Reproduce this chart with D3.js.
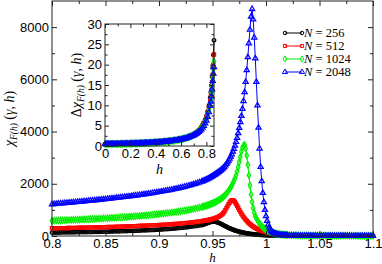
<!DOCTYPE html>
<html>
<head>
<meta charset="utf-8">
<script src="https://cdn.jsdelivr.net/npm/d3@7"></script>
<style>
body { margin: 0; background: #fff; }
svg { display: block; font-family: "Liberation Serif", "Times New Roman", serif; }
.tick text { font-size: 13px; fill: #000; }
.tick line { stroke: #222; }
</style>
</head>
<body>
<div id="chart-area"></div>
<script>
// ---- data ----
var hMain = [
  0.800,0.802,0.804,0.806,0.808,0.810,0.812,0.814,0.816,0.818,
  0.820,0.822,0.824,0.826,0.828,0.830,0.832,0.834,0.836,0.838,
  0.840,0.842,0.844,0.846,0.848,0.850,0.852,0.854,0.856,0.858,
  0.860,0.862,0.864,0.866,0.868,0.870,0.872,0.874,0.876,0.878,
  0.880,0.882,0.884,0.886,0.888,0.890,0.892,0.894,0.896,0.898,
  0.900,0.902,0.904,0.906,0.908,0.910,0.912,0.914,0.916,0.918,
  0.920,0.922,0.924,0.926,0.928,0.930,0.932,0.934,0.936,0.938,0.940,
  0.941,0.942,0.943,0.944,0.945,0.946,0.947,0.948,0.949,0.950,
  0.951,0.952,0.953,0.954,0.955,0.956,0.957,0.958,0.959,0.960,
  0.961,0.962,0.963,0.964,0.965,0.966,0.967,0.968,0.969,0.970,
  0.971,0.972,0.973,0.974,0.975,0.976,0.977,0.978,0.979,0.980,
  0.981,0.982,0.983,0.984,0.985,0.986,0.987,0.988,0.989,0.990,
  0.991,0.992,0.993,0.994,0.995,0.996,0.997,0.998,0.999,1.000,
  1.001,1.002,1.003,1.004,1.005,1.006,1.007,1.008,1.009,1.010,
  1.011,1.012,1.013,1.014,1.015,1.016,1.017,1.018,1.019,1.020,
  1.022,1.024,1.026,1.028,1.030,1.032,1.034,1.036,1.038,1.040,
  1.042,1.044,1.046,1.048,1.050,1.052,1.054,1.056,1.058,1.060,
  1.062,1.064,1.066,1.068,1.070,1.072,1.074,1.076,1.078,1.080,
  1.082,1.084,1.086,1.088,1.090,1.092,1.094,1.096,1.098,1.100
];

var chi256 = [
  130,131,133,134,135,137,138,139,140,142,
  143,145,146,148,149,151,152,154,155,157,
  159,160,162,164,166,168,170,172,174,176,
  179,181,183,186,188,191,194,197,200,203,
  206,209,213,216,220,224,228,232,237,241,
  246,251,257,262,268,274,280,287,294,301,
  309,317,326,336,346,357,368,380,392,405,418,
  430,444,460,476,492,507,521,533,542,548,
  550,548,541,530,516,500,482,462,441,420,
  398,377,356,335,315,296,278,261,245,230,
  215,202,189,177,166,155,145,136,127,119,
  111,104,97,91,85,80,75,70,66,62,
  58,54,51,48,45,42,40,37,35,33,
  31,30,28,27,25,24,23,22,21,20,
  19,18,17,17,16,15,15,14,14,13,
  13,12,12,11,11,10,10,10,9,9,
  9,8,8,8,8,7,7,7,6,6,
  6,6,6,6,5,5,5,5,5,5,
  4,4,4,4,4,4,4,4,3,3
];

var chi512 = [
  295,296,298,299,301,302,304,305,307,309,
  311,312,314,316,318,320,322,324,326,328,
  330,332,334,336,339,341,344,346,349,351,
  354,356,359,362,365,368,371,374,377,380,
  384,387,391,394,398,402,406,410,415,419,
  424,428,433,438,443,448,454,460,466,472,
  479,486,493,501,509,518,527,537,547,558,570,
  576,583,590,597,605,613,622,631,641,652,
  664,677,691,707,725,746,770,798,830,870,
  925,990,1065,1145,1220,1285,1338,1370,1372,1350,
  1300,1235,1160,1080,1000,925,855,790,730,675,
  625,578,535,495,458,424,393,364,337,312,
  289,268,248,230,213,197,183,170,157,146,
  135,125,116,108,100,93,87,81,76,71,
  66,62,58,55,52,49,46,44,42,40,
  36,33,30,28,26,24,22,21,19,18,
  17,16,15,14,14,13,12,12,11,11,
  10,10,9,9,8,8,8,8,7,7,
  7,7,6,6,6,6,5,5,5,5
];

var chi1024 = [
  586,589,592,595,598,601,604,607,611,614,
  618,621,625,628,632,636,640,644,648,652,
  656,660,665,669,674,678,683,688,693,698,
  703,708,714,719,725,731,737,743,749,755,
  762,769,776,783,791,798,806,814,822,831,
  840,849,858,868,878,888,899,910,921,933,
  945,958,971,985,1000,1016,1033,1051,1070,1090,1111,
  1122,1134,1146,1159,1172,1186,1201,1216,1232,1249,
  1267,1286,1306,1328,1351,1376,1403,1432,1464,1499,
  1537,1579,1625,1676,1732,1794,1862,1937,2020,2110,
  2210,2330,2470,2640,2830,3030,3230,3390,3460,3490,
  3350,3080,2730,2330,1940,1590,1300,1070,890,750,
  680,600,535,475,425,380,340,305,273,245,
  220,198,178,160,145,131,118,107,97,88,
  80,73,67,62,57,52,48,45,42,39,
  34,30,27,25,23,21,19,18,17,16,
  15,14,13,13,12,12,11,11,10,10,
  9,9,8,8,8,8,7,7,7,7,
  6,6,6,6,6,6,5,5,5,5
];

var chi2048 = [
  1215,1222,1230,1237,1245,1252,1260,1267,1275,1282,
  1290,1297,1305,1312,1320,1328,1336,1344,1352,1360,
  1368,1376,1385,1393,1402,1411,1420,1429,1438,1447,
  1457,1466,1476,1486,1496,1506,1517,1527,1538,1549,
  1560,1571,1583,1595,1607,1619,1632,1645,1658,1671,
  1685,1699,1714,1729,1744,1760,1776,1793,1810,1828,
  1846,1865,1885,1906,1928,1951,1975,2000,2027,2055,2085,
  2102,2119,2137,2156,2176,2197,2219,2242,2266,2291,
  2317,2344,2373,2403,2430,2460,2492,2526,2562,2600,
  2650,2700,2760,2820,2890,2960,3040,3130,3230,3340,
  3460,3600,3760,3940,4140,4360,4600,4870,5170,5510,
  5900,6350,6850,7380,7900,8400,8690,8300,7600,6800,
  5900,5000,4150,3350,2650,2100,1650,1300,1000,760,
  580,440,330,250,190,150,120,97,80,67,
  57,49,43,38,34,31,28,26,24,22,
  20,18,16,15,13,13,12,12,11,11,
  10,10,9,9,9,8,8,8,8,7,
  7,7,7,6,6,6,6,6,6,5,
  5,5,5,5,5,5,4,4,4,4
];

// inset: delta chi
var hInset = [
  0.00,0.01,0.02,0.03,0.04,0.05,0.06,0.07,0.08,0.09,
  0.10,0.11,0.12,0.13,0.14,0.15,0.16,0.17,0.18,0.19,
  0.20,0.21,0.22,0.23,0.24,0.25,0.26,0.27,0.28,0.29,
  0.30,0.31,0.32,0.33,0.34,0.35,0.36,0.37,0.38,0.39,
  0.40,0.41,0.42,0.43,0.44,0.45,0.46,0.47,0.48,0.49,
  0.50,0.51,0.52,0.53,0.54,0.55,0.56,0.57,0.58,0.59,
  0.60,0.61,0.62,0.63,0.64,0.65,0.66,0.67,0.68,0.69,
  0.70,0.71,0.72,0.73,0.74,0.75,0.76,0.77,0.78,0.79,
  0.80,0.81,0.82,0.83,
  0.835,0.84,0.845,0.85,0.855,0.86
];

var dchi256 = [
  .47,.475,.48,.485,.49,.495,.50,.505,.51,.515,
  .52,.525,.53,.54,.55,.555,.56,.57,.58,.59,
  .60,.61,.62,.63,.64,.65,.66,.675,.69,.705,
  .72,.735,.75,.765,.78,.80,.82,.84,.86,.88,
  .90,.925,.95,.975,1.00,1.03,1.06,1.09,1.12,1.155,
  1.19,1.23,1.27,1.315,1.36,1.415,1.47,1.53,1.59,1.655,
  1.72,1.80,1.89,1.98,2.08,2.19,2.31,2.45,2.59,2.75,
  2.92,3.12,3.35,3.61,3.92,4.27,4.69,5.18,5.77,6.49,
  7.38,8.50,9.94,11.9,
  13.2,14.9,17.0,19.2,22.4,26.0
];
var dchi512 = [
  .46,.465,.47,.475,.48,.485,.49,.495,.50,.505,
  .51,.515,.52,.53,.54,.545,.55,.56,.57,.58,
  .59,.60,.61,.62,.63,.64,.65,.665,.68,.695,
  .71,.725,.74,.755,.77,.785,.80,.82,.84,.86,
  .88,.905,.93,.955,.98,1.005,1.03,1.065,1.10,1.135,
  1.17,1.21,1.25,1.29,1.33,1.38,1.43,1.49,1.55,1.615,
  1.68,1.76,1.84,1.93,2.02,2.13,2.24,2.37,2.51,2.67,
  2.83,3.02,3.23,3.48,3.77,4.10,4.49,4.95,5.50,6.17,
  7.00,8.02,9.34,11.1,
  12.3,13.8,15.7,17.5,20.0,22.5
];
var dchi1024 = [
  .46,.465,.47,.475,.48,.485,.49,.495,.50,.505,
  .51,.515,.52,.525,.53,.54,.55,.555,.56,.57,
  .58,.59,.60,.61,.62,.63,.64,.655,.67,.685,
  .70,.715,.73,.745,.76,.775,.79,.81,.83,.85,
  .87,.895,.92,.945,.97,.995,1.02,1.05,1.08,1.115,
  1.15,1.19,1.23,1.27,1.31,1.36,1.41,1.465,1.52,1.585,
  1.65,1.72,1.80,1.89,1.98,2.08,2.19,2.31,2.45,2.60,
  2.76,2.94,3.14,3.38,3.65,3.96,4.33,4.76,5.28,5.91,
  6.69,7.66,8.90,10.6,
  11.7,13.1,14.9,16.9,18.8,20.8
];
var dchi2048 = [
  .45,.455,.46,.465,.47,.475,.48,.485,.49,.495,
  .50,.505,.51,.515,.52,.53,.54,.545,.55,.56,
  .57,.58,.59,.60,.61,.62,.63,.64,.65,.665,
  .68,.695,.71,.725,.74,.755,.77,.79,.81,.83,
  .85,.87,.89,.915,.94,.965,.99,1.02,1.05,1.085,
  1.12,1.155,1.19,1.23,1.27,1.315,1.36,1.415,1.47,1.53,
  1.59,1.66,1.73,1.81,1.90,2.00,2.10,2.22,2.34,2.48,
  2.63,2.80,2.99,3.21,3.46,3.75,4.09,4.49,4.97,5.55,
  6.26,7.15,8.30,9.85,
  10.9,12.2,13.9,16.0,17.8,19.4
];

var sizes = ["256", "512", "1024", "2048"];

var xTicks = [0.8, 0.85, 0.9, 0.95, 1, 1.05, 1.1];
var xTickLabels = ["0.8", "0.85", "0.9", "0.95", "1", "1.05", "1.1"];
var yTicks = [0, 2000, 4000, 6000, 8000];
var yTickLabels = ["0", "2000", "4000", "6000", "8000"];
var inXTicks = [0, 0.2, 0.4, 0.6, 0.8];
var inXTickLabels = ["0", "0.2", "0.4", "0.6", "0.8"];
var inYTicks = [0, 5, 10, 15, 20, 25, 30];
var inYTickLabels = ["0", "5", "10", "15", "20", "25", "30"];

// ---- styles ----
var colors = ["#000000", "#ff0000", "#00f000", "#0000ff"];
var shapes = [d3.symbolCircle, d3.symbolSquare, d3.symbolDiamond, d3.symbolTriangle];
var symSize = [10, 10, 11, 12];

var mainY = [chi256, chi512, chi1024, chi2048];
var insetY = [dchi256, dchi512, dchi1024, dchi2048];

var margin = {top: 1, right: 9, bottom: 28, left: 52};
var width = 382 - margin.left - margin.right;
var height = 264 - margin.top - margin.bottom;

var svg = d3.select("#chart-area").append("svg")
  .attr("width", 382)
  .attr("height", 264);

var g = svg.append("g")
  .attr("transform", "translate(" + margin.left + "," + margin.top + ")");

var xscale = d3.scaleLinear().domain([0.8, 1.1]).range([0, width]);
var yscale = d3.scaleLinear().domain([0, 9000]).range([height, 0]);

function minorOf(major, step) {
  var out = [];
  for (var i = 0; i < major.length - 1; i++) out.push(major[i] + step);
  return out;
}

function drawAxes(grp, xs, ys, w, h, xt, xl, xminor, yt, yl, yminor, big, small) {
  var fmt = function(list, labels) {
    return function(d) { return labels[list.indexOf(d)]; };
  };
  grp.append("g").attr("transform", "translate(0," + h + ")")
    .call(d3.axisBottom(xs).tickValues(xt).tickFormat(fmt(xt, xl)).tickSize(-big).tickSizeOuter(0).tickPadding(3));
  grp.append("g").attr("transform", "translate(0," + h + ")")
    .call(d3.axisBottom(xs).tickValues(xminor).tickFormat("").tickSize(-small).tickSizeOuter(0));
  grp.append("g")
    .call(d3.axisTop(xs).tickValues(xt).tickFormat("").tickSize(-big).tickSizeOuter(0));
  grp.append("g")
    .call(d3.axisTop(xs).tickValues(xminor).tickFormat("").tickSize(-small).tickSizeOuter(0));
  grp.append("g")
    .call(d3.axisLeft(ys).tickValues(yt).tickFormat(fmt(yt, yl)).tickSize(-big).tickSizeOuter(0).tickPadding(3));
  grp.append("g")
    .call(d3.axisLeft(ys).tickValues(yminor).tickFormat("").tickSize(-small).tickSizeOuter(0));
  grp.append("g").attr("transform", "translate(" + w + ",0)")
    .call(d3.axisRight(ys).tickValues(yt).tickFormat("").tickSize(-big).tickSizeOuter(0));
  grp.append("g").attr("transform", "translate(" + w + ",0)")
    .call(d3.axisRight(ys).tickValues(yminor).tickFormat("").tickSize(-small).tickSizeOuter(0));
  grp.selectAll(".domain").remove();
  grp.append("rect")
    .attr("width", w).attr("height", h)
    .attr("fill", "none").attr("stroke", "#222").attr("stroke-width", 1);
}

function drawSeries(grp, xs, ys, hs, vals, i) {
  var pts = d3.zip(hs, vals);
  grp.append("path")
    .datum(pts)
    .attr("fill", "none")
    .attr("stroke", colors[i])
    .attr("stroke-width", 1)
    .attr("d", d3.line().x(function(d){ return xs(d[0]); }).y(function(d){ return ys(d[1]); }));
  var sym = d3.symbol().type(shapes[i]).size(symSize[i]);
  grp.append("g").selectAll("path")
    .data(pts)
    .enter().append("path")
    .attr("transform", function(d){ return "translate(" + xs(d[0]) + "," + ys(d[1]) + ")"; })
    .attr("d", sym)
    .attr("fill", "none")
    .attr("stroke", colors[i])
    .attr("stroke-width", 1.2);
}

// main plot
mainY.forEach(function(vals, i){
  drawSeries(g, xscale, yscale, hMain, vals, i);
});

drawAxes(g, xscale, yscale, width, height,
  xTicks, xTickLabels, minorOf(xTicks, 0.025),
  yTicks, yTickLabels, minorOf(yTicks, 1000), 5, 3);

// axis labels
g.append("text")
  .attr("x", width / 2)
  .attr("y", height + 25.5)
  .attr("text-anchor", "middle")
  .attr("font-size", "13px")
  .attr("font-style", "italic")
  .text("h");

function chiLabel(sel, delta) {
  var t = sel.append("text").attr("text-anchor", "middle").attr("font-size", "14px");
  if (delta) t.append("tspan").text("Δ");
  t.append("tspan").attr("font-style", "italic").text("χ");
  t.append("tspan").attr("font-style", "italic").attr("font-size", "9.5px").attr("dy", 3).text("F(h)");
  t.append("tspan").attr("dy", -3).text(" (");
  t.append("tspan").attr("font-style", "italic").text("γ");
  t.append("tspan").text(", ");
  t.append("tspan").attr("font-style", "italic").text("h");
  t.append("tspan").text(")");
  return t;
}

chiLabel(svg, false)
  .attr("transform", "translate(14," + (margin.top + height / 2) + ") rotate(-90)");

// legend
var legend = g.append("g").attr("transform", "translate(" + (285 - margin.left) + "," + (33 - margin.top) + ")");
sizes.forEach(function(n, i){
  var row = legend.append("g").attr("transform", "translate(0," + (i * 13) + ")");
  row.append("line")
    .attr("x1", 0).attr("x2", 17).attr("y1", 0).attr("y2", 0)
    .attr("stroke", colors[i]).attr("stroke-width", 1);
  [0, 17].forEach(function(px){
    row.append("path")
      .attr("transform", "translate(" + px + ",0)")
      .attr("d", d3.symbol().type(shapes[i]).size(symSize[i]))
      .attr("fill", "none").attr("stroke", colors[i]);
  });
  var t = row.append("text").attr("x", 19).attr("y", 4.2).attr("font-size", "12.5px");
  t.append("tspan").attr("font-style", "italic").text("N");
  t.append("tspan").text(" = " + n);
});

// inset
var inset = {left: 105, top: 24, width: 109, height: 122};
var ig = svg.append("g")
  .attr("transform", "translate(" + inset.left + "," + inset.top + ")");
ig.append("rect").attr("width", inset.width).attr("height", inset.height).attr("fill", "#fff");

var ixscale = d3.scaleLinear().domain([0, 0.86]).range([0, inset.width]);
var iyscale = d3.scaleLinear().domain([0, 30]).range([inset.height, 0]);

insetY.forEach(function(vals, i){
  drawSeries(ig, ixscale, iyscale, hInset, vals, i);
});

drawAxes(ig, ixscale, iyscale, inset.width, inset.height,
  inXTicks, inXTickLabels, [0.1, 0.3, 0.5, 0.7],
  inYTicks, inYTickLabels, minorOf(inYTicks, 2.5), 4, 2.5);

ig.append("text")
  .attr("x", inset.width / 2)
  .attr("y", inset.height + 28)
  .attr("text-anchor", "middle")
  .attr("font-size", "14px")
  .attr("font-style", "italic")
  .text("h");

chiLabel(svg, true)
  .attr("transform", "translate(81," + (inset.top + inset.height / 2) + ") rotate(-90)");
</script>
</body>
</html>
